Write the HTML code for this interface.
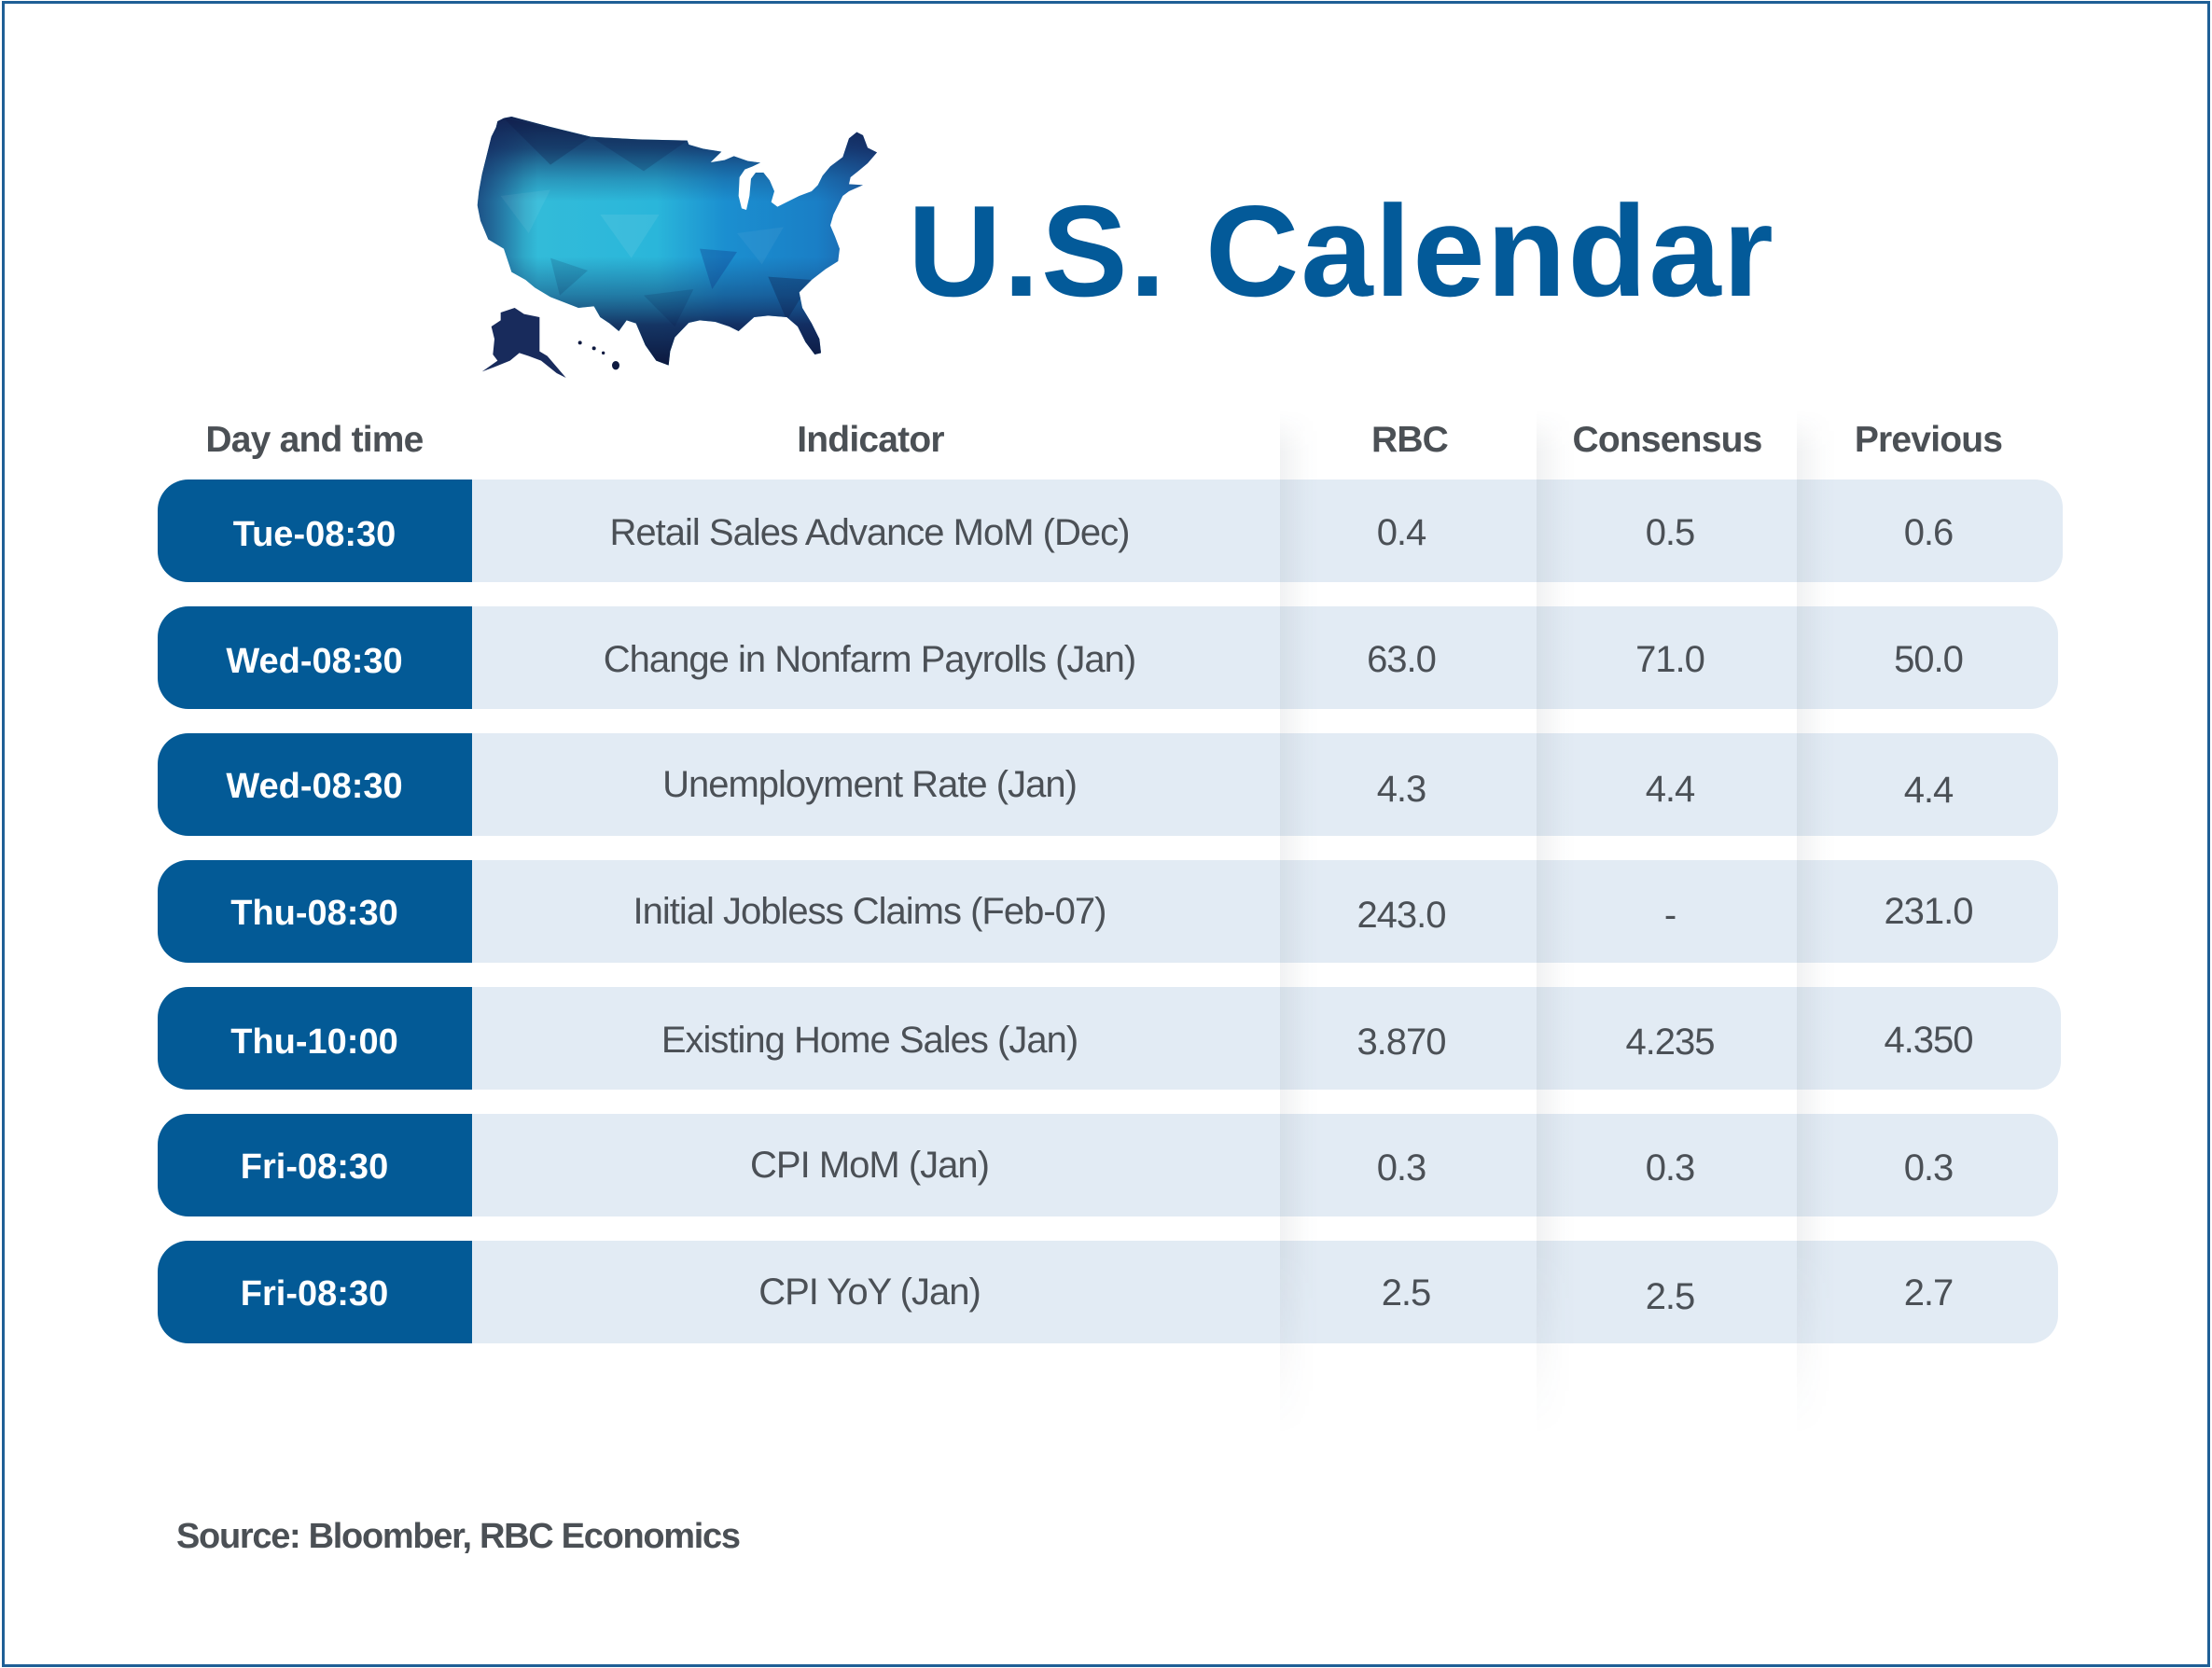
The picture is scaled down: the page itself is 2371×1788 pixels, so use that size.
<!DOCTYPE html>
<html>
<head>
<meta charset="utf-8">
<style>
  html, body { margin:0; padding:0; }
  body { width:2371px; height:1788px; position:relative; background:#ffffff; overflow:hidden;
         font-family:"Liberation Sans", Arial, sans-serif; }
  .frame { position:absolute; left:2px; top:1px; width:2361px; height:1780px; border:3px solid #1f5f96; }
  .title { position:absolute; left:973px; top:200px; font-size:139px; line-height:139px; font-weight:bold;
           color:#035a99; letter-spacing:2px; white-space:nowrap; }
  .hdr { position:absolute; top:452px; width:500px; text-align:center; font-size:39px; line-height:39px;
         font-weight:bold; color:#4b5055; letter-spacing:-0.8px; white-space:nowrap; }
  .dark { position:absolute; left:169px; width:337px; height:110px; background:#035a96;
          border-radius:33px 0 0 33px; }
  .light { position:absolute; left:506px; height:110px; background:#e2ebf4; border-radius:0 30px 30px 0; }
  .t { position:absolute; width:600px; text-align:center; height:110px; line-height:110px; white-space:nowrap; }
  .day { font-size:38px; font-weight:bold; color:#ffffff; }
  .ind { font-size:40px; color:#4b5056; letter-spacing:-1px; }
  .val { font-size:40px; color:#4b5056; letter-spacing:-1px; }
  .shadow { position:absolute; top:440px; width:42px; height:1100px;
            background:linear-gradient(to right, rgba(40,55,70,0.065) 0px, rgba(40,55,70,0.04) 14px, rgba(40,55,70,0.012) 28px, rgba(40,55,70,0) 42px);
            -webkit-mask-image:linear-gradient(to bottom, rgba(0,0,0,0) 0%, rgba(0,0,0,1) 4%, rgba(0,0,0,1) 82%, rgba(0,0,0,0) 100%);
            mask-image:linear-gradient(to bottom, rgba(0,0,0,0) 0%, rgba(0,0,0,1) 4%, rgba(0,0,0,1) 82%, rgba(0,0,0,0) 100%);
            z-index:2; }
  .src { position:absolute; left:189px; top:1628px; font-size:38px; line-height:38px; font-weight:bold;
         color:#4b5055; letter-spacing:-1.3px; white-space:nowrap; }
  .map { position:absolute; left:490px; top:110px; width:470px; height:310px; }
</style>
</head>
<body>
<div class="frame"></div>

<svg class="map" viewBox="0 0 1410 930" xmlns="http://www.w3.org/2000/svg">
  <defs>
    <linearGradient id="hz" gradientUnits="userSpaceOnUse" x1="60" y1="0" x2="1350" y2="0">
      <stop offset="0" stop-color="#2a8fc4"/>
      <stop offset="0.12" stop-color="#33bcd9"/>
      <stop offset="0.45" stop-color="#2ab6da"/>
      <stop offset="0.62" stop-color="#1b8fd0"/>
      <stop offset="0.85" stop-color="#1a7fc6"/>
      <stop offset="1" stop-color="#1e5aa0"/>
    </linearGradient>
    <linearGradient id="vt" gradientUnits="userSpaceOnUse" x1="0" y1="50" x2="0" y2="860">
      <stop offset="0" stop-color="#111d4a" stop-opacity="0.95"/>
      <stop offset="0.12" stop-color="#13265a" stop-opacity="0.75"/>
      <stop offset="0.25" stop-color="#163a70" stop-opacity="0.25"/>
      <stop offset="0.33" stop-color="#163a70" stop-opacity="0"/>
      <stop offset="0.55" stop-color="#163a70" stop-opacity="0"/>
      <stop offset="0.7" stop-color="#143468" stop-opacity="0.45"/>
      <stop offset="0.82" stop-color="#111f50" stop-opacity="0.85"/>
      <stop offset="1" stop-color="#0b1438" stop-opacity="1"/>
    </linearGradient>
    <linearGradient id="lf" gradientUnits="userSpaceOnUse" x1="60" y1="0" x2="260" y2="0">
      <stop offset="0" stop-color="#13265a" stop-opacity="0.6"/>
      <stop offset="1" stop-color="#13265a" stop-opacity="0"/>
    </linearGradient>
    <path id="us" d="M150,50 L175,45 L300,78 L430,110 L580,118 L740,122 L745,135 L790,148 L850,158 L815,192 L860,185 L890,172 L935,188 L975,193 L950,205 L925,215 L908,240 L905,300 L915,340 L930,345 L940,300 L945,245 L960,225 L985,225 L1005,250 L1020,285 L1010,320 L1030,335 L1060,320 L1100,300 L1140,285 L1160,265 L1175,235 L1200,205 L1240,175 L1260,115 L1285,95 L1305,105 L1320,145 L1350,160 L1320,195 L1290,220 L1265,240 L1260,262 L1305,265 L1260,285 L1240,300 L1225,330 L1210,360 L1200,395 L1215,430 L1230,470 L1225,510 L1185,535 L1140,570 L1100,610 L1110,660 L1140,710 L1165,760 L1170,805 L1150,810 L1120,770 L1095,720 L1060,690 L1000,685 L955,690 L905,735 L875,720 L830,705 L780,700 L745,708 L700,755 L685,800 L680,845 L640,830 L605,780 L575,710 L545,700 L520,735 L490,710 L460,690 L440,655 L390,660 L300,625 L250,595 L220,570 L175,545 L150,470 L100,440 L75,380 L65,330 L70,285 L80,230 L95,170 L110,110 L125,80 L130,60 Z"/>
    <clipPath id="usclip"><use href="#us"/></clipPath>
  </defs>
  <g clip-path="url(#usclip)">
    <rect x="0" y="0" width="1410" height="930" fill="url(#hz)"/>
    <rect x="0" y="0" width="1410" height="930" fill="url(#vt)"/>
    <rect x="0" y="0" width="1410" height="930" fill="url(#lf)"/>
    <polygon points="150,50 430,110 300,200" fill="#0a1540" opacity="0.25"/>
    <polygon points="430,110 740,122 600,220" fill="#0a1540" opacity="0.2"/>
    <polygon points="140,300 300,280 230,420" fill="#ffffff" opacity="0.06"/>
    <polygon points="460,360 650,360 560,500" fill="#ffffff" opacity="0.08"/>
    <polygon points="780,470 900,480 820,600" fill="#0d2f80" opacity="0.3"/>
    <polygon points="900,420 1050,400 980,520" fill="#ffffff" opacity="0.05"/>
    <polygon points="1000,560 1140,570 1060,700" fill="#0a1540" opacity="0.3"/>
    <polygon points="300,500 420,540 330,620" fill="#0a1540" opacity="0.15"/>
    <polygon points="600,620 760,600 700,720" fill="#0a1540" opacity="0.15"/>
  </g>
  <path d="M140,675 L185,660 L215,680 L265,690 L265,800 L290,815 L350,885 L320,870 L270,830 L230,815 L200,805 L170,830 L120,850 L80,865 L130,830 L115,810 L120,760 L110,720 L140,700 Z" fill="#182b5c"/>
  <circle cx="395" cy="772" r="6" fill="#0e1a40"/>
  <circle cx="440" cy="790" r="6" fill="#0e1a40"/>
  <circle cx="470" cy="805" r="5" fill="#0e1a40"/>
  <ellipse cx="510" cy="845" rx="12" ry="14" fill="#0e1a40"/>
</svg>

<div class="title">U.S. Calendar</div>

<div class="hdr" style="left:87px;">Day and time</div>
<div class="hdr" style="left:683px;">Indicator</div>
<div class="hdr" style="left:1261px;">RBC</div>
<div class="hdr" style="left:1537px;">Consensus</div>
<div class="hdr" style="left:1817px;">Previous</div>

<!-- Row 1 -->
<div class="dark" style="top:514px;"></div>
<div class="light" style="top:514px; width:1705px;"></div>
<div class="t day" style="top:518px; left:37px;">Tue-08:30</div>
<div class="t ind" style="top:516px; left:632px;">Retail Sales Advance MoM (Dec)</div>
<div class="t val" style="top:516px; left:1202px;">0.4</div>
<div class="t val" style="top:516px; left:1490px;">0.5</div>
<div class="t val" style="top:516px; left:1767px;">0.6</div>

<!-- Row 2 -->
<div class="dark" style="top:650px;"></div>
<div class="light" style="top:650px; width:1700px;"></div>
<div class="t day" style="top:654px; left:37px;">Wed-08:30</div>
<div class="t ind" style="top:652px; left:632px;">Change in Nonfarm Payrolls (Jan)</div>
<div class="t val" style="top:652px; left:1202px;">63.0</div>
<div class="t val" style="top:652px; left:1490px;">71.0</div>
<div class="t val" style="top:652px; left:1767px;">50.0</div>

<!-- Row 3 -->
<div class="dark" style="top:786px;"></div>
<div class="light" style="top:786px; width:1700px;"></div>
<div class="t day" style="top:788px; left:37px;">Wed-08:30</div>
<div class="t ind" style="top:786px; left:632px;">Unemployment Rate (Jan)</div>
<div class="t val" style="top:791px; left:1202px;">4.3</div>
<div class="t val" style="top:791px; left:1490px;">4.4</div>
<div class="t val" style="top:792px; left:1767px;">4.4</div>

<!-- Row 4 -->
<div class="dark" style="top:922px;"></div>
<div class="light" style="top:922px; width:1700px;"></div>
<div class="t day" style="top:924px; left:37px;">Thu-08:30</div>
<div class="t ind" style="top:922px; left:632px;">Initial Jobless Claims (Feb-07)</div>
<div class="t val" style="top:926px; left:1202px;">243.0</div>
<div class="t val" style="top:926px; left:1490px;">-</div>
<div class="t val" style="top:922px; left:1767px;">231.0</div>

<!-- Row 5 -->
<div class="dark" style="top:1058px;"></div>
<div class="light" style="top:1058px; width:1703px;"></div>
<div class="t day" style="top:1062px; left:37px;">Thu-10:00</div>
<div class="t ind" style="top:1060px; left:632px;">Existing Home Sales (Jan)</div>
<div class="t val" style="top:1062px; left:1202px;">3.870</div>
<div class="t val" style="top:1062px; left:1490px;">4.235</div>
<div class="t val" style="top:1060px; left:1767px;">4.350</div>

<!-- Row 6 -->
<div class="dark" style="top:1194px;"></div>
<div class="light" style="top:1194px; width:1700px;"></div>
<div class="t day" style="top:1196px; left:37px;">Fri-08:30</div>
<div class="t ind" style="top:1194px; left:632px;">CPI MoM (Jan)</div>
<div class="t val" style="top:1197px; left:1202px;">0.3</div>
<div class="t val" style="top:1197px; left:1490px;">0.3</div>
<div class="t val" style="top:1197px; left:1767px;">0.3</div>

<!-- Row 7 -->
<div class="dark" style="top:1330px;"></div>
<div class="light" style="top:1330px; width:1700px;"></div>
<div class="t day" style="top:1332px; left:37px;">Fri-08:30</div>
<div class="t ind" style="top:1330px; left:632px;">CPI YoY (Jan)</div>
<div class="t val" style="top:1331px; left:1207px;">2.5</div>
<div class="t val" style="top:1335px; left:1490px;">2.5</div>
<div class="t val" style="top:1331px; left:1767px;">2.7</div>

<div class="shadow" style="left:1372px;"></div>
<div class="shadow" style="left:1647px;"></div>
<div class="shadow" style="left:1926px;"></div>

<div class="src">Source: Bloomber, RBC Economics</div>
</body>
</html>
